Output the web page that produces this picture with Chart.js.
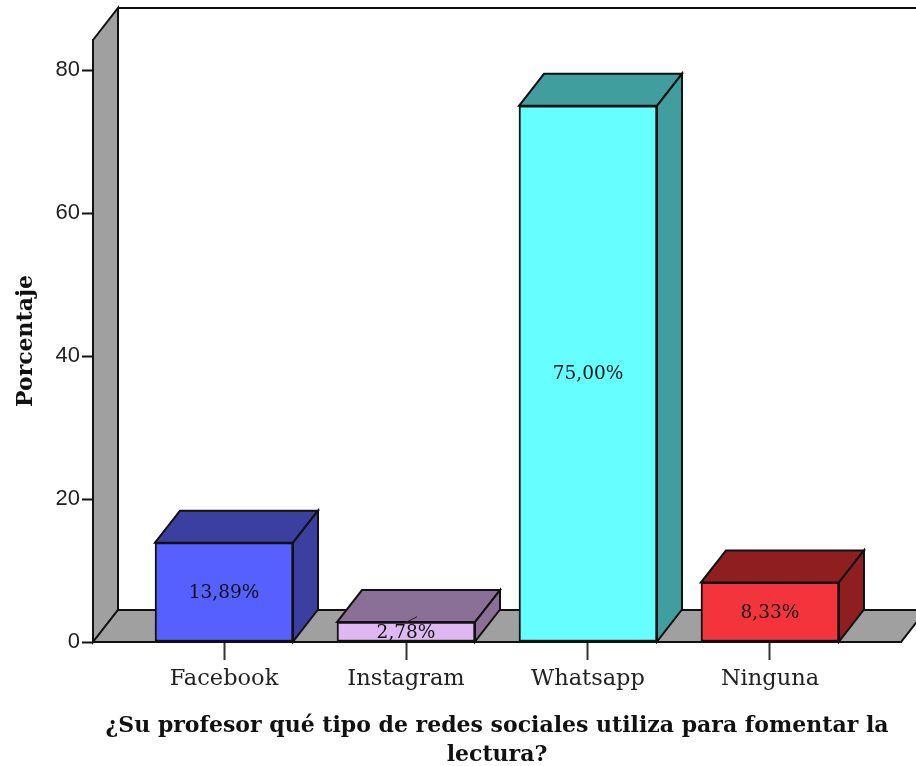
<!DOCTYPE html>
<html>
<head>
<meta charset="utf-8">
<title>Redes sociales</title>
<script src="https://cdn.jsdelivr.net/npm/chart.js@4"></script>
<style>
    body { margin: 0; background: #fff; }
    canvas { display: block; }
</style>
</head>
<body>
<canvas id="redesChart" width="916" height="766"></canvas>
<script>
const categories = ['Facebook', 'Instagram', 'Whatsapp', 'Ninguna'];
const porcentajes = [13.89, 2.78, 75.00, 8.33];
const yTicks = [0, 20, 40, 60, 80];

const frontColors = ['#5660ff', '#dfb8f3', '#66ffff', '#f3343c'];
const topColors = ['#3b3fa0', '#8a6f96', '#409e9e', '#8f1e20'];
const wallColor = '#a0a0a0';
const lineColor = '#111';

// profundidad del efecto 3D
const depthX = 25;
const depthY = 32;

function poly(ctx, pts, fill) {
    ctx.beginPath();
    ctx.moveTo(pts[0][0], pts[0][1]);
    for (let i = 1; i < pts.length; i++) {
        ctx.lineTo(pts[i][0], pts[i][1]);
    }
    ctx.closePath();
    if (fill) {
        ctx.fillStyle = fill;
        ctx.fill();
    }
    ctx.stroke();
}

const box3d = {
    id: 'box3d',
    beforeDatasetsDraw(chart) {
        const ctx = chart.ctx;
        const a = chart.chartArea;
        ctx.save();
        ctx.strokeStyle = lineColor;
        ctx.lineWidth = 2;
        // pared izquierda y piso
        poly(ctx, [[a.left, a.top], [a.left + depthX, a.top - depthY], [a.left + depthX, a.bottom - depthY], [a.left, a.bottom]], wallColor);
        poly(ctx, [[a.left, a.bottom], [a.left + depthX, a.bottom - depthY], [a.right + depthX, a.bottom - depthY], [a.right, a.bottom]], wallColor);
        // borde superior de la pared del fondo
        ctx.beginPath();
        ctx.moveTo(a.left + depthX, a.top - depthY);
        ctx.lineTo(a.right + depthX, a.top - depthY);
        ctx.stroke();
        // caras superior y lateral de cada barra
        chart.getDatasetMeta(0).data.forEach(function (bar, i) {
            const l = bar.x - bar.width / 2;
            const r = bar.x + bar.width / 2;
            poly(ctx, [[l, bar.y], [l + depthX, bar.y - depthY], [r + depthX, bar.y - depthY], [r, bar.y]], topColors[i]);
            poly(ctx, [[r, bar.y], [r + depthX, bar.y - depthY], [r + depthX, bar.base - depthY], [r, bar.base]], topColors[i]);
        });
        ctx.restore();
    },
    afterDatasetsDraw(chart) {
        const ctx = chart.ctx;
        ctx.save();
        ctx.fillStyle = '#111';
        ctx.font = '18.5px "DejaVu Serif"';
        ctx.textAlign = 'center';
        ctx.textBaseline = 'middle';
        chart.getDatasetMeta(0).data.forEach(function (bar, i) {
            const cy = (bar.y + bar.base) / 2;
            ctx.fillText(porcentajes[i].toFixed(2).replace('.', ',') + '%', bar.x, cy + 1);
            if (i === 1) {
                // linea guia de la etiqueta pequeña
                ctx.strokeStyle = '#222';
                ctx.lineWidth = 1;
                ctx.beginPath();
                ctx.moveTo(bar.x - 1, cy - 9);
                ctx.lineTo(bar.x + 11, cy - 15);
                ctx.stroke();
            }
        });
        ctx.restore();
    }
};

new Chart(document.getElementById('redesChart'), {
    type: 'bar',
    data: {
        datasets: [{
            data: porcentajes.map(function (v, i) { return { x: i, y: v }; }),
            backgroundColor: frontColors,
            borderColor: lineColor,
            borderWidth: 2,
            borderSkipped: false,
            barThickness: 138
        }]
    },
    plugins: [box3d],
    options: {
        responsive: false,
        animation: false,
        layout: { padding: { top: 40, right: 15, left: 0, bottom: 0 } },
        plugins: {
            legend: { display: false },
            tooltip: { enabled: false }
        },
        scales: {
            x: {
                type: 'linear',
                offset: false,
                bounds: 'data',
                min: -0.72,
                max: 3.72,
                afterBuildTicks: function (scale) {
                    scale.ticks = categories.map(function (c, i) { return { value: i }; });
                },
                afterFit: function (scale) { scale.height = 124; },
                grid: { offset: false, drawOnChartArea: false, tickLength: 18, tickColor: '#333', tickWidth: 2 },
                border: { color: lineColor, width: 2 },
                ticks: {
                    autoSkip: false,
                    maxRotation: 0,
                    padding: 6,
                    color: '#222',
                    font: { family: '"DejaVu Serif"', size: 22.5 },
                    callback: function (value) { return categories[value]; }
                },
                title: {
                    display: true,
                    text: ['¿Su profesor qué tipo de redes sociales utiliza para fomentar la', 'lectura?'],
                    color: '#111',
                    font: { family: '"DejaVu Serif"', size: 22, weight: 'bold', lineHeight: 1.32 },
                    padding: { top: 0, bottom: -4 }
                }
            },
            y: {
                min: 0,
                max: 84.2,
                bounds: 'data',
                afterBuildTicks: function (scale) {
                    scale.ticks = yTicks.map(function (v) { return { value: v }; });
                },
                afterFit: function (scale) { scale.width = 93; },
                grid: { drawOnChartArea: false, tickLength: 11, tickColor: lineColor, tickWidth: 2 },
                border: { color: lineColor, width: 2 },
                ticks: {
                    padding: 2,
                    color: '#222',
                    font: { family: '"Liberation Sans"', size: 22 }
                },
                title: {
                    display: true,
                    text: 'Porcentaje',
                    color: '#111',
                    font: { family: '"DejaVu Serif"', size: 22, weight: 'bold' },
                    padding: { top: 13, bottom: 0 }
                }
            }
        }
    }
});
</script>
</body>
</html>
